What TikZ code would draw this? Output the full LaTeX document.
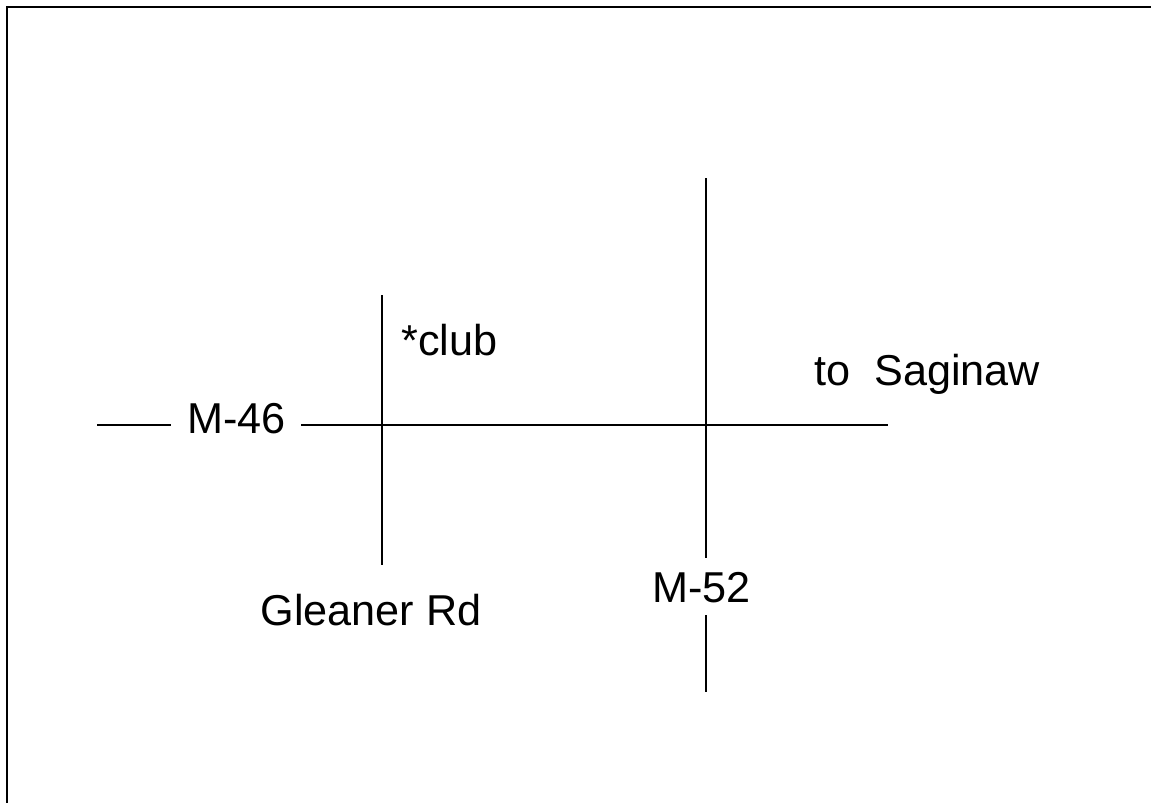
\documentclass[tikz,border=0pt]{standalone}
\usepackage{fontspec}
\setmainfont{Liberation Sans}
\begin{document}
\begin{tikzpicture}[x=0.5pt,y=-0.5pt,
    road/.style={line width=1pt},
    sign/.style={anchor=base west,inner sep=0pt,font=\fontsize{21.6}{26}\selectfont}]
    \useasboundingbox (0,0) rectangle (1151,803);
    \draw[line width=1pt] (6.5,803) -- (6.5,6.5) -- (1151,6.5);
    % road ends
    \coordinate (m46w) at (97,425);
    \coordinate (m46a) at (171,425);
    \coordinate (m46b) at (301,425);
    \coordinate (m46e) at (888,425);
    \coordinate (glN) at (382,295);
    \coordinate (glS) at (382,565);
    \coordinate (m52N) at (706,178);
    \coordinate (m52a) at (706,558);
    \coordinate (m52b) at (706,615);
    \coordinate (m52S) at (706,692);
    % roads
    \draw[road] (m46w) -- (m46a);
    \draw[road] (m46b) -- (m46e);
    \draw[road] (glN) -- (glS);
    \draw[road] (m52N) -- (m52a);
    \draw[road] (m52b) -- (m52S);
    % labels
    \node[sign] (m46) at (187,433) {M-46};
    \node[sign] (club) at (401,355) {*club};
    \node[sign] (gleaner) at (260,625) {Gleaner Rd};
    \node[sign] (m52) at (652,602) {M-52};
    \node[sign] (saginaw) at (814,385) {to~ Saginaw};
\end{tikzpicture}
\end{document}
